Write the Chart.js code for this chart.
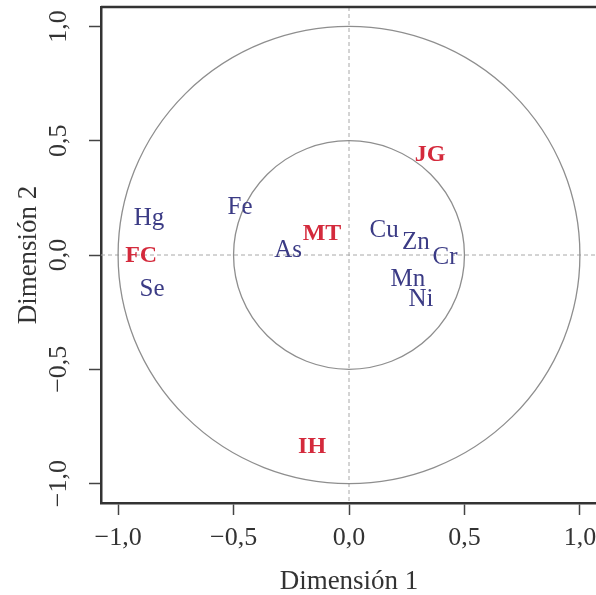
<!DOCTYPE html>
<html><head><meta charset="utf-8">
<script src="https://cdn.jsdelivr.net/npm/chart.js@4"></script>
<style>html,body{margin:0;padding:0;background:#fff;overflow:hidden}#wrap{width:596px;height:595px;overflow:hidden}canvas{display:block}</style>
</head><body><div id="wrap"><canvas id="c" width="600" height="595"></canvas></div>
<script>
const variableNames = ['Hg','Se','Fe','As','Cu','Zn','Cr','Mn','Ni'];
const variableX = [-0.866,-0.853,-0.472,-0.264,0.152,0.29,0.416,0.255,0.312];
const variableY = [0.162,-0.152,0.21,0.018,0.109,0.053,-0.01,-0.109,-0.193];
const groupNames = ['JG','MT','FC','IH'];
const groupX = [0.351,-0.117,-0.90,-0.16];
const groupY = [0.438,0.092,-0.004,-0.84];
const tickValues = [-1,-0.5,0,0.5,1];
const tickLabels = ['\u22121,0','\u22120,5','0,0','0,5','1,0'];
const circleRadii = [1, 0.5];

const SERIF = "'Liberation Serif', 'Times New Roman', serif";

const refPlugin = {
  id:'refs',
  beforeDatasetsDraw(chart){
    const {ctx, chartArea:a, scales:{x, y}} = chart;
    ctx.save();
    ctx.beginPath(); ctx.rect(a.left, a.top, a.right-a.left, a.bottom-a.top); ctx.clip();
    ctx.strokeStyle = '#a8a8a8'; ctx.lineWidth = 1; ctx.setLineDash([4,3]);
    const x0 = x.getPixelForValue(0), y0 = y.getPixelForValue(0);
    ctx.beginPath(); ctx.moveTo(x0, a.top); ctx.lineTo(x0, a.bottom); ctx.stroke();
    ctx.beginPath(); ctx.moveTo(a.left, y0); ctx.lineTo(a.right, y0); ctx.stroke();
    ctx.setLineDash([]);
    ctx.strokeStyle = '#8e8e8e'; ctx.lineWidth = 1.3;
    circleRadii.forEach(r => {
      const rx = x.getPixelForValue(r) - x0;
      const ry = y0 - y.getPixelForValue(r);
      ctx.beginPath(); ctx.ellipse(x0, y0, rx, ry, 0, 0, Math.PI*2); ctx.stroke();
    });
    ctx.restore();
  },
  afterDatasetsDraw(chart){
    const {ctx} = chart;
    ctx.save();
    ctx.textAlign = 'center'; ctx.textBaseline = 'middle';
    chart.data.datasets.forEach((ds, i) => {
      const meta = chart.getDatasetMeta(i);
      ctx.fillStyle = ds.textColor;
      ctx.font = ds.textFont;
      meta.data.forEach((el, j) => ctx.fillText(ds.names[j], el.x, el.y));
    });
    ctx.restore();
  },
  afterDraw(chart){
    const {ctx, chartArea:a} = chart;
    ctx.save();
    ctx.strokeStyle = '#333'; ctx.lineWidth = 2.5;
    ctx.beginPath(); ctx.moveTo(a.left, a.top); ctx.lineTo(a.right + 3, a.top); ctx.stroke();
    ctx.restore();
  }
};

new Chart(document.getElementById('c'), {
  type:'scatter',
  data:{
    datasets:[
      {label:'Variables', names:variableNames, textColor:'#3b3b85', textFont:"25px "+SERIF,
       data:variableX.map((v,i)=>({x:v, y:variableY[i]})), pointRadius:0},
      {label:'Grupos', names:groupNames, textColor:'#d42a3c', textFont:"bold 24px "+SERIF,
       data:groupX.map((v,i)=>({x:v, y:groupY[i]})), pointRadius:0}
    ]
  },
  options:{
    responsive:false, animation:false, devicePixelRatio:1,
    layout:{padding:{top:7,right:3,left:0,bottom:0}},
    plugins:{legend:{display:false}, tooltip:{enabled:false}},
    scales:{
      x:{type:'linear', min:-1.074, max:1.074,
        afterBuildTicks:s=>{ s.ticks = tickValues.map(v=>({value:v})); },
        afterFit:s=>{ s.height = 92; s.paddingLeft = 0; s.paddingRight = 0; },
        ticks:{callback:(v,i)=>tickLabels[i], font:{family:SERIF, size:26}, color:'#333', padding:8, maxRotation:0, minRotation:0, autoSkip:false},
        grid:{drawOnChartArea:false, tickLength:12, tickColor:'#444', tickWidth:1.5},
        border:{color:'#333', width:2.5},
        title:{display:true, text:'Dimensión 1', font:{family:SERIF, size:27, lineHeight:1.0}, color:'#333', padding:{top:0,bottom:0}}
      },
      y:{type:'linear', min:-1.085, max:1.085,
        afterBuildTicks:s=>{ s.ticks = tickValues.map(v=>({value:v})); },
        afterFit:s=>{ s.width = 101; s.paddingTop = 0; s.paddingBottom = 0; },
        ticks:{callback:(v,i)=>tickLabels[i], font:{family:SERIF, size:26}, color:'#333', padding:6, minRotation:90, maxRotation:90, crossAlign:'center', autoSkip:false},
        grid:{drawOnChartArea:false, tickLength:12, tickColor:'#444', tickWidth:1.5},
        border:{color:'#333', width:2.5},
        title:{display:true, text:'Dimensión 2', font:{family:SERIF, size:27}, color:'#333', padding:{top:13,bottom:0}}
      }
    }
  },
  plugins:[refPlugin]
});
</script></body></html>
